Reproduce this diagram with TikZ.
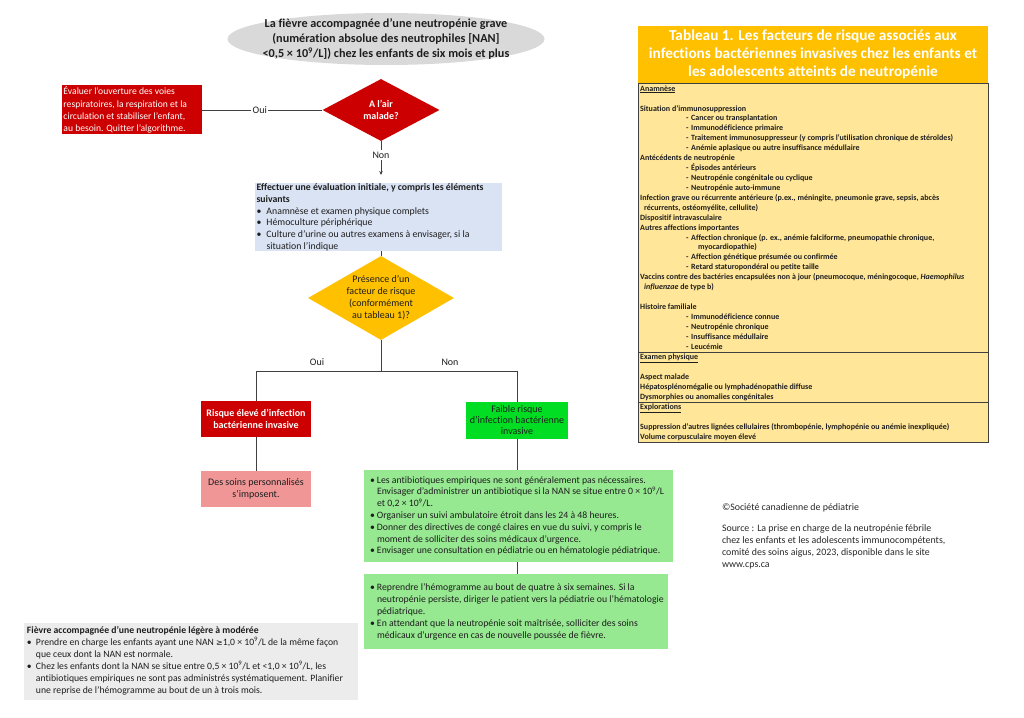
\documentclass[tikz,border=0pt]{standalone}
\usepackage{fontspec}
\setmainfont{Carlito}[Ligatures=CommonOff]
\newfontfamily\symf{DejaVu Sans}
\usetikzlibrary{shapes.geometric,arrows.meta,calc}
\definecolor{ellgray}{RGB}{217,217,217}
\definecolor{rred}{RGB}{204,0,0}
\definecolor{bblue}{RGB}{218,227,243}
\definecolor{yel}{RGB}{255,192,0}
\definecolor{gbright}{RGB}{0,221,34}
\definecolor{glight}{RGB}{150,232,145}
\definecolor{pinkb}{RGB}{240,150,150}
\definecolor{gbox}{RGB}{236,236,236}
\definecolor{tbody}{RGB}{255,230,153}
\definecolor{lin}{RGB}{64,64,64}
\definecolor{txt}{RGB}{30,30,30}
\definecolor{srct}{RGB}{40,40,40}
\newcommand{\bl}[1][9bp]{\makebox[#1][l]{\textbullet}}
\newcommand{\ind}[1][9bp]{\hspace*{#1}}
\newcommand{\nine}{\textsuperscript{9}}
\newcommand{\tb}{\hspace*{46bp}\makebox[5bp][l]{-}}
\newcommand{\fs}[2]{\fontsize{#1bp}{#2bp}\selectfont}
\tikzset{
  box/.style={rectangle, inner sep=0pt, outer sep=0pt},
  conn/.style={draw=lin, line width=0.9bp},
  lbl/.style={font=\fs{10}{12}, text=txt, fill=white, inner sep=1.5bp},
  plain/.style={inner sep=0pt, outer sep=0pt, text=txt},
  ltext/.style={inner sep=0pt, outer sep=0pt, anchor=west, align=left, text=txt},
  tsec/.style={rectangle, fill=tbody, draw=lin, line width=0.7bp, inner sep=0pt, outer sep=0pt, anchor=north west},
  ttext/.style={inner sep=0pt, anchor=north west, align=left, text=txt, font=\bfseries\fs{8}{9.92}},
}
\begin{document}
\begin{tikzpicture}[x=1bp,y=-1bp]
\useasboundingbox (0,0) rectangle (1024,718);
\fill[white] (0,0) rectangle (1024,718);

% top ellipse
\node[ellipse, fill=ellgray, minimum width=317bp, minimum height=52bp, inner sep=0pt] (ell) at (386,39) {};
\node[plain, align=center, font=\bfseries\fs{12.2}{15}] (ellt) at (ell.center) {La fièvre accompagnée d’une neutropénie grave\\(numération absolue des neutrophiles [NAN]\\<0,5 × 10\nine/L]) chez les enfants de six mois et plus};

% red diamond
\node[diamond, fill=rred, minimum width=117bp, minimum height=62bp, inner sep=0pt] (d1) at (381,110) {};
\node[plain, align=center, text=white, font=\bfseries\fs{10}{12}] (d1t) at (d1.center) {A l’air\\malade?};

% red box left
\node[box, fill=rred, minimum width=140bp, minimum height=49bp] (rb) at (132,110) {};
\node[ltext, text=white, font=\fs{9.6}{12.3}] (rbt) at ($(rb.west)+(1.5,0)$) {Évaluer l’ouverture des voies\\respiratoires, la respiration et la\\circulation et stabiliser l’enfant,\\au besoin. Quitter l’algorithme.};
\draw[conn] (d1.west) -- node[lbl, pos=0.52]{Oui} (rb.east);

% blue box
\node[box, fill=bblue, minimum width=247bp, minimum height=68bp] (bb) at (378.5,217) {};
\node[ltext, font=\fs{9.8}{11.7}] (bbt) at ($(bb.west)+(1.5,0.5)$) {\textbf{Effectuer une évaluation initiale, y compris les éléments}\\\textbf{suivants}\\\bl[10bp]Anamnèse et examen physique complets\\\bl[10bp]Hémoculture périphérique\\\bl[10bp]Culture d’urine ou autres examens à envisager, si la\\\ind[10bp]situation l’indique};
\draw[conn, -{Stealth[length=4bp,width=3.5bp]}, shorten >=8bp] (d1.south) -- node[lbl, pos=0.33]{Non} (d1.south |- bb.north);

% yellow diamond
\node[diamond, fill=yel, minimum width=146bp, minimum height=84bp, inner sep=0pt] (d2) at (381,298) {};
\node[plain, align=center, font=\fs{10}{12}] (d2t) at (d2.center) {Présence d’un\\facteur de risque\\(conformément\\au tableau 1)?};
\draw[conn] (d2.north |- bb.south) -- (d2.north);

% risk boxes
\node[box, fill=rred, minimum width=110bp, minimum height=36bp, align=center, font=\bfseries\fs{10}{12.3}, text=white] (rk) at (256,419) {Risque élevé d’infection\\bactérienne invasive};
\node[box, fill=gbright, minimum width=102bp, minimum height=37bp, align=center, font=\fs{10}{11}, text=txt] (gk) at (517,420.5) {Faible risque\\d’infection bactérienne\\invasive};
\coordinate (sp) at (381,371);
\draw[conn] (d2.south) -- (sp);
\draw[conn] (sp) -| (rk.north);
\draw[conn] (sp) -| (gk.north);
\node[plain, font=\fs{10}{12}] (oui2) at (317,362) {Oui};
\node[plain, font=\fs{10}{12}] (non2) at (450,362) {Non};

% pink box
\node[box, fill=pinkb, minimum width=110bp, minimum height=36bp, align=center, font=\fs{10}{12.3}, text=txt] (pk) at (256,489) {Des soins personnalisés\\s’imposent.};
\draw[conn] (rk.south) -- (pk.north);

% green lists
\node[box, fill=glight, minimum width=309bp, minimum height=92bp] (g1) at (518.5,516) {};
\node[ltext, font=\fs{9.75}{11.8}] (g1t) at ($(g1.west)+(6,0)$) {\bl[7bp]Les antibiotiques empiriques ne sont généralement pas nécessaires.\\\ind[7bp]Envisager d’administrer un antibiotique si la NAN se situe entre 0 × 10\nine/L\\\ind[7bp]et 0,2 × 10\nine/L.\\\bl[7bp]Organiser un suivi ambulatoire étroit dans les 24 à 48 heures.\\\bl[7bp]Donner des directives de congé claires en vue du suivi, y compris le\\\ind[7bp]moment de solliciter des soins médicaux d’urgence.\\\bl[7bp]Envisager une consultation en pédiatrie ou en hématologie pédiatrique.};
\draw[conn] (gk.south) -- (gk.south |- g1.north);

\node[box, fill=glight, minimum width=304bp, minimum height=75bp] (g2) at (516,611.5) {};
\node[ltext, font=\fs{9.75}{12}] (g2t) at ($(g2.west)+(6,0)$) {\bl[7bp]Reprendre l’hémogramme au bout de quatre à six semaines. Si la\\\ind[7bp]neutropénie persiste, diriger le patient vers la pédiatrie ou l’hématologie\\\ind[7bp]pédiatrique.\\\bl[7bp]En attendant que la neutropénie soit maîtrisée, solliciter des soins\\\ind[7bp]médicaux d’urgence en cas de nouvelle poussée de fièvre.};
\draw[conn] (gk.south |- g1.south) -- (gk.south |- g2.north);

% gray box
\node[box, fill=gbox, minimum width=334bp, minimum height=77bp] (gb) at (191,661.5) {};
\node[ltext, font=\fs{9.7}{12}] (gbt) at ($(gb.west)+(3,-1)$) {\textbf{Fièvre accompagnée d’une neutropénie légère à modérée}\\\bl[9bp]Prendre en charge les enfants ayant une NAN {\symf\fs{8}{12}≥}1,0 × 10\nine/L de la même façon\\\ind[9bp]que ceux dont la NAN est normale.\\\bl[9bp]Chez les enfants dont la NAN se situe entre 0,5 × 10\nine/L et <1,0 × 10\nine/L, les\\\ind[9bp]antibiotiques empiriques ne sont pas administrés systématiquement. Planifier\\\ind[9bp]une reprise de l’hémogramme au bout de un à trois mois.};

% table
\node[box, fill=yel, minimum width=350bp, minimum height=57bp, align=center, text=white, font=\bfseries\fs{15.3}{18}] (th) at (813,54.5) {Tableau 1. Les facteurs de risque associés aux\\infections bactériennes invasives chez les enfants et\\les adolescents atteints de neutropénie};
\node[tsec, minimum width=350bp, minimum height=269bp] (s1) at (638,83) {};
\node[tsec, minimum width=350bp, minimum height=50bp] (s2) at (638,352) {};
\node[tsec, minimum width=350bp, minimum height=40bp] (s3) at (638,402) {};
\node[ttext] (t1) at ($(s1.north west)+(2,2.5)$) {\underline{Anamnèse}\\[9.92bp]
Situation d’immunosuppression\\
\tb Cancer ou transplantation\\
\tb Immunodéficience primaire\\
\tb Traitement immunosuppresseur (y compris l’utilisation chronique de stéroïdes)\\
\tb Anémie aplasique ou autre insuffisance médullaire\\
Antécédents de neutropénie\\
\tb Épisodes antérieurs\\
\tb Neutropénie congénitale ou cyclique\\
\tb Neutropénie auto-immune\\
Infection grave ou récurrente antérieure (p.ex., méningite, pneumonie grave, sepsis, abcès\\
\hspace*{4bp}récurrents, ostéomyélite, cellulite)\\
Dispositif intravasculaire\\
Autres affections importantes\\
\tb Affection chronique (p. ex., anémie falciforme, pneumopathie chronique,\\
\hspace*{58bp}myocardiopathie)\\
\tb Affection génétique présumée ou confirmée\\
\tb Retard staturopondéral ou petite taille\\
Vaccins contre des bactéries encapsulées non à jour (pneumocoque, méningocoque, \textit{Haemophilus}\\
\hspace*{4bp}\textit{influenzae} de type b)\\[9.92bp]
Histoire familiale\\
\tb Immunodéficience connue\\
\tb Neutropénie chronique\\
\tb Insuffisance médullaire\\
\tb Leucémie};
\node[ttext] (t2) at ($(s2.north west)+(2,2)$) {\underline{Examen physique}\\[9.92bp]
Aspect malade\\
Hépatosplénomégalie ou lymphadénopathie diffuse\\
Dysmorphies ou anomalies congénitales};
\node[ttext] (t3) at ($(s3.north west)+(2,2)$) {\underline{Explorations}\\[9.92bp]
Suppression d’autres lignées cellulaires (thrombopénie, lymphopénie ou anémie inexpliquée)\\
Volume corpusculaire moyen élevé};

% source
\node[plain, anchor=north west, font=\fs{9.9}{12}, text=srct] (cp) at (722,504) {©Société canadienne de pédiatrie};
\node[plain, anchor=north west, align=left, font=\fs{9.9}{12}, text=srct] (src) at (722,525) {Source : La prise en charge de la neutropénie fébrile\\chez les enfants et les adolescents immunocompétents,\\comité des soins aigus, 2023, disponible dans le site\\www.cps.ca};
\end{tikzpicture}
\end{document}
